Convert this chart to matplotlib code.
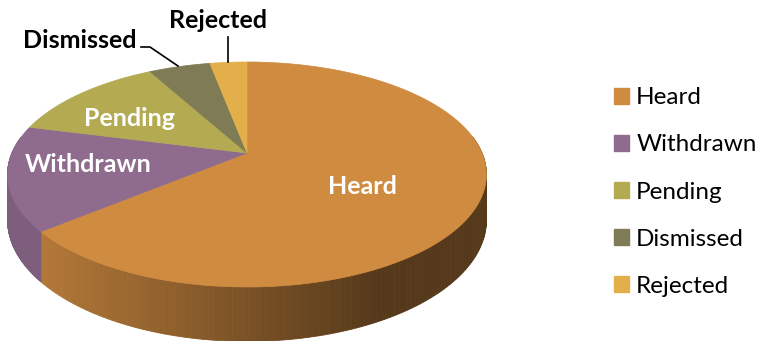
import numpy as np
import matplotlib
matplotlib.use("Agg")
import matplotlib.pyplot as plt
from matplotlib.patches import Polygon, Patch
from matplotlib.colors import to_rgb

labels = ["Heard", "Withdrawn", "Pending", "Dismissed", "Rejected"]
values = [64, 15, 13, 5, 3]
colors = ["#CF8B40", "#8F6B8E", "#B3AA52", "#7F7B55", "#E3AF4A"]

plt.rcParams['font.family'] = ['Lato', 'DejaVu Sans']

# pie geometry in pixels (apex, radii, perspective, thickness)
cx, cy = 247, 153
rx, ry, persp, depth = 235, 108.4, 0.191, 44


def project(t, z=0.0):
    x, y = np.cos(t), np.sin(t)
    w = 1 + persp * y
    return cx + rx * x / w, cy - ry * y / w + depth * z / w


def shade(px):
    # side gets darker from left to right
    return np.interp(px, [30, 380], [0.88, 0.41])


fig = plt.figure(figsize=(7.58, 3.41), dpi=100)
ax = fig.add_axes([0, 0, 1, 1])
ax.set_xlim(0, 758)
ax.set_ylim(341, 0)
ax.axis('off')

frac = np.array(values, dtype=float) / sum(values)
bounds = np.deg2rad(90 - 360 * np.concatenate([[0], np.cumsum(frac)]))

# side walls
for i, c in enumerate(colors):
    ts = np.linspace(bounds[i], bounds[i + 1], 200)
    base = np.array(to_rgb(c))
    for t0, t1 in zip(ts[:-1], ts[1:]):
        tm = 0.5 * (t0 + t1)
        if np.sin(tm) > 0.15:
            continue
        pts = [project(t0), project(t1), project(t1, 1), project(t0, 1)]
        col = np.clip(base * shade(project(tm)[0]), 0, 1)
        ax.add_patch(Polygon(pts, closed=True, facecolor=col, edgecolor=col,
                             lw=0.6, zorder=2))

# top faces
for i, c in enumerate(colors):
    ts = np.linspace(bounds[i], bounds[i + 1], 200)
    pts = [(cx, cy)] + [project(t) for t in ts]
    ax.add_patch(Polygon(pts, closed=True, facecolor=c, edgecolor=c,
                         lw=0.5, zorder=3))

# slice labels
lab = dict(fontsize=18, fontweight="bold", ha="center", va="center", zorder=5)
ax.text(362, 186, "Heard", color="white", **lab)
ax.text(88, 165, "Withdrawn", color="white", **lab)
ax.text(129, 118, "Pending", color="white", **lab)
ax.text(80, 40, "Dismissed", color="black", **lab)
ax.text(218, 20, "Rejected", color="black", **lab)
ax.plot([141, 150, 178], [47, 47, 66], color="black", lw=1.2, zorder=5)
ax.plot([228, 228], [37, 62], color="black", lw=1.2, zorder=5)

handles = [Patch(facecolor=c, edgecolor=c) for c in colors]
ax.legend(handles, labels, loc="center left",
          bbox_to_anchor=(592 / 758, 1 - 192 / 341), frameon=False,
          fontsize=17.5, handlelength=0.62, handleheight=0.62,
          handletextpad=0.3, labelspacing=1.07)

fig.savefig("out.png", dpi=100)
